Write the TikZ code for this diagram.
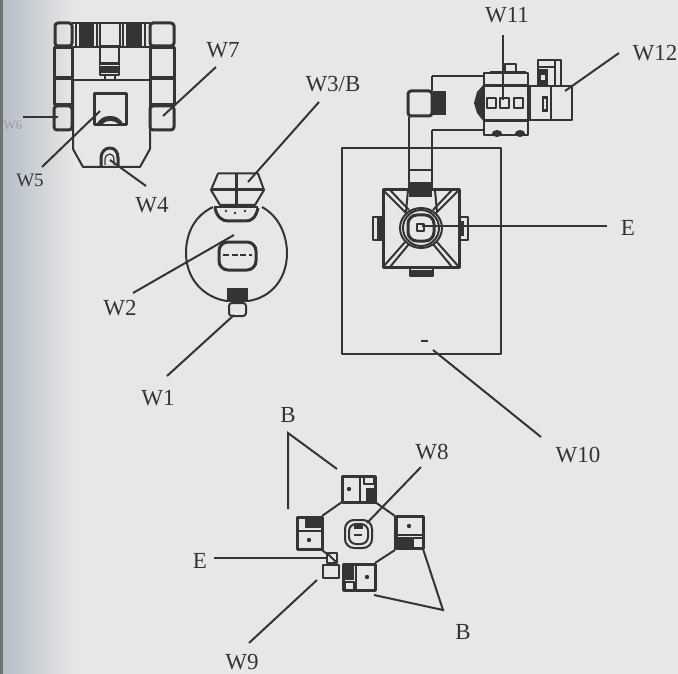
\documentclass[tikz,border=0pt]{standalone}
\usepackage{fontspec}
\setmainfont{Liberation Serif}
\definecolor{ink}{HTML}{343434}
\definecolor{paper}{HTML}{E7E7E6}
\definecolor{edge}{HTML}{B4BDC8}
\definecolor{faint}{HTML}{9A9DA3}
\tikzset{
  wall/.style={draw=ink,line width=2pt,line join=round},
  heavy/.style={draw=ink,line width=3pt,line join=round},
  thinwall/.style={draw=ink,line width=1.2pt},
  solid block/.style={fill=ink,draw=ink,line width=.6pt},
  leader/.style={draw=ink,line width=2pt},
  lab/.style={text=ink,inner sep=0pt,font=\fontsize{23}{26}\selectfont},
  smalllab/.style={text=faint,inner sep=0pt,font=\fontsize{13}{15}\selectfont},
  dotmark/.style={fill=ink,draw=none}
}
\begin{document}
\begin{tikzpicture}[x=1pt,y=-1pt]
\useasboundingbox (0,0) rectangle (678,674);
\fill[paper] (0,0) rectangle (678,674);
\shade[left color=edge,right color=paper,shading angle=90] (0,0) rectangle (75,674);
\fill[ink!70] (0,0) rectangle (2.5,674);

% ---------- tank (W4-W7)
\draw[heavy,rounded corners=3pt] (55,23) rectangle (72,46);
\draw[heavy] (54,48) rectangle (72,78);
\draw[heavy] (54,79) rectangle (72,105);
\draw[heavy,rounded corners=3pt] (54,106) rectangle (72,130);
\draw[heavy,rounded corners=3pt] (150,23) rectangle (174,46);
\draw[heavy] (150,48) rectangle (174,78);
\draw[heavy] (150,79) rectangle (174,105);
\draw[heavy,rounded corners=3pt] (150,106) rectangle (174,130);
\draw[wall] (72,23) -- (150,23);
\draw[wall] (72,47) -- (150,47);
\fill[ink] (79,23) rectangle (94,46);
\fill[ink] (126,23) rectangle (142,46);
\draw[thinwall] (76,23) -- (76,46) (97,23) -- (97,46) (123,23) -- (123,46) (145,23) -- (145,46);
\draw[wall] (100,23) rectangle (120,46);
\draw[wall] (100,47) rectangle (119,75);
\fill[ink] (100,62) rectangle (119,73);
\draw[draw=paper,line width=1pt] (100,66) -- (119,66);
\draw[wall] (105,75) rectangle (115,80);
\draw[wall] (73,80) -- (150,80);
\draw[wall] (73,80) -- (73,149) -- (83,167) -- (140,167) -- (150,149) -- (150,80);
\draw[heavy] (94,94) rectangle (126,125);
\fill[ink] (96,125) .. controls (100,118) and (104,116) .. (110,116)
  .. controls (116,116) and (120,118) .. (124,125) -- cycle;
\fill[paper] (103,124) .. controls (105,120) and (115,120) .. (118,124) -- cycle;
\draw[heavy] (101,167) -- (101,158) .. controls (101,152) and (105,148) .. (110,148)
  .. controls (115,148) and (118,152) .. (118,158) -- (118,167);
\draw[thinwall] (105,165) -- (105,160) .. controls (105,156) and (107,154) .. (110,154)
  .. controls (112,154) and (114,156) .. (114,160) -- (114,165);

% ---------- robot (W1-W3)
\draw[wall] (218,173.5) -- (258,173.5) -- (264,190) -- (255,205) -- (220,205) -- (211,190) -- cycle;
\draw[heavy] (211,190) -- (264,190);
\draw[heavy] (236,173.5) -- (236,205);
\draw[wall] (213,207) .. controls (190,218) and (186,240) .. (186,253)
  .. controls (186,280) and (205,298) .. (227,301);
\draw[wall] (262,207) .. controls (282,218) and (287,240) .. (287,253)
  .. controls (287,280) and (270,298) .. (248,301);
\draw[heavy] (215,208) .. controls (217,217) and (222,221) .. (228,221) -- (246,221)
  .. controls (252,221) and (256,217) .. (258,208);
\draw[wall] (214,207.5) -- (258,207.5);
\fill[dotmark] (226,211) circle (1.4) (235,213) circle (1.4) (245,211) circle (1.4);
\draw[heavy,rounded corners=9pt] (219,242) rectangle (256,270);
\draw[wall,dash pattern=on 6pt off 2.5pt] (223,255) -- (252,255);
\fill[ink] (227,288) rectangle (248,302);
\draw[wall,rounded corners=3pt] (229,303) rectangle (246,316);

% ---------- building (W10-W12, E)
\draw[wall] (342,148) rectangle (501,354);
\draw[wall] (409,117) -- (409,190) (432,130) -- (432,190);
\draw[heavy,rounded corners=3pt] (408,91) rectangle (432,116);
\fill[ink] (433,91) rectangle (446,115);
\draw[wall] (432,76) -- (432,91) (432,130) -- (484,130) (432,76) -- (484,76);
\draw[wall] (409,170) -- (432,170);
\fill[ink] (409,182) rectangle (432,197);
\draw[draw=paper,line width=.7pt] (409,188) -- (432,188);
% module W11
\draw[wall] (484,73) rectangle (528,135);
\draw[heavy] (484,86) -- (528,86);
\draw[heavy] (484,121) -- (528,121);
\draw[heavy] (490,72.5) -- (526,72.5);
\draw[wall] (505,64) rectangle (516,72);
\fill[ink] (484,84) -- (477,92) -- (474,103) -- (477,113) -- (484,122) -- cycle;
\draw[wall] (487,98) rectangle (496,108);
\draw[wall] (500,98) rectangle (509,108);
\draw[wall] (514,98) rectangle (523,108);
\fill[ink] (497,133.5) ellipse (5 and 3.5);
\fill[ink] (520,133.5) ellipse (5 and 3.5);
\draw[wall] (528,86) rectangle (572,120);
\draw[heavy] (529,86) -- (529,120);
\draw[wall] (551,86) -- (551,120);
\draw[wall] (538,60) rectangle (561,86);
\draw[wall] (538,67) -- (555,67);
\draw[wall] (555,61) -- (555,86);
\fill[ink] (539,69) rectangle (548,85);
\fill[paper] (541,75) rectangle (545,80);
\fill[ink] (542,96) rectangle (548,112);
\fill[paper] (544,99) rectangle (546,109);
% turret
\draw[heavy] (383,190) rectangle (459,267);
\draw[wall] (383,190) -- (406,213) (459,190) -- (436,213) (383,267) -- (406,241) (459,267) -- (436,241);
\draw[wall] (390,190) -- (409,210) (452,190) -- (433,210) (390,267) -- (409,244) (452,267) -- (433,244);
\draw[wall] (408,190) -- (406,212) (435,190) -- (437,212);
\draw[wall] (421,228) ellipse (21 and 20);
\draw[wall] (421,228) ellipse (18 and 18);
\draw[heavy,rounded corners=9pt] (408,215) rectangle (434,241);
\draw[wall] (417,224) rectangle (424,231);
\draw[wall] (373,217) rectangle (383,240);
\fill[ink] (377,218) rectangle (383,239);
\draw[wall] (459,217) rectangle (468,240);
\fill[ink] (459,221) rectangle (464,236);
\draw[wall] (410,267) -- (410,276) -- (433,276) -- (433,267);
\fill[ink] (411,270) rectangle (432,276);
\fill[ink] (421,339.5) rectangle (428,342);

% ---------- turret group (W8, W9, E, B)
\draw[wall] (342,502) -- (322,516) (322,550) -- (327,554) (375,502) -- (395,516) (395,550) -- (375,563);
\draw[wall] (322,516) -- (322,550);
\draw[wall] (395,516) -- (395,550);
% top module
\draw[heavy] (342,476) rectangle (375,502);
\draw[wall] (360,476) -- (360,502);
\draw[wall] (364,477) rectangle (374,484);
\fill[ink] (366,488) rectangle (375,503);
\fill[dotmark] (349,489) circle (2.2);
% right module
\draw[heavy] (396,516) rectangle (423,548);
\draw[wall] (396,535) -- (423,535);
\fill[ink] (395,537) rectangle (412,549);
\draw[wall] (413,538) rectangle (423,548);
\fill[dotmark] (409,526) circle (2.2);
% bottom module
\draw[heavy] (343,564) rectangle (375,590);
\draw[wall] (356,564) -- (356,590);
\fill[ink] (344,564) rectangle (354,580);
\draw[wall] (345,582) rectangle (354,590);
\fill[dotmark] (367,577) circle (2.2);
% left module
\draw[heavy] (297,517) rectangle (322,549);
\draw[wall] (297,531) -- (322,531);
\fill[ink] (305,517) rectangle (322,528);
\fill[paper] (299,520) rectangle (303,527);
\fill[dotmark] (309,540) circle (2.2);
% centre
\draw[wall,rounded corners=9pt] (345,520) rectangle (372,548);
\draw[wall,rounded corners=7pt] (349,524) rectangle (368,544);
\fill[ink] (354,524) rectangle (363,529);
\fill[ink] (354,534) rectangle (362,535.5);
% small parts
\draw[wall] (327,553) rectangle (337,563);
\draw[wall] (327,553) -- (337,563);
\draw[wall] (323,565) rectangle (339,578);

% ---------- labels
\node[lab] (lw7) at (223,50) {W7};
\node[smalllab] (lw6) at (13,125) {W6};
\node[lab,font=\fontsize{19}{22}\selectfont] (lw5) at (30,180) {W5};
\node[lab] (lw4) at (152,205) {W4};
\node[lab] (lw3) at (333,84) {W3/B};
\node[lab] (lw2) at (120,308) {W2};
\node[lab] (lw1) at (158,398) {W1};
\node[lab] (lw11) at (507,15) {W11};
\node[lab] (lw12) at (655,53) {W12};
\node[lab] (le) at (628,228) {E};
\node[lab] (lw10) at (578,455) {W10};
\node[lab] (lw8) at (432,452) {W8};
\node[lab] (lw9) at (242,662) {W9};
\node[lab] (lb1) at (288,415) {B};
\node[lab] (lb2) at (463,632) {B};
\node[lab] (le2) at (200,561) {E};

% ---------- leader anchors
\coordinate (a7a) at (216,67);   \coordinate (a7b) at (163,116);
\coordinate (a6a) at (23,117);   \coordinate (a6b) at (58,117);
\coordinate (a5a) at (42,167);   \coordinate (a5b) at (100,111);
\coordinate (a4a) at (146,186);  \coordinate (a4b) at (110,160);
\coordinate (a3a) at (319,102);  \coordinate (a3b) at (248,182);
\coordinate (a2a) at (133,293);  \coordinate (a2b) at (234,235);
\coordinate (a1a) at (167,376);  \coordinate (a1b) at (234,315);
\coordinate (a11a) at (503,35);  \coordinate (a11b) at (503,100);
\coordinate (a12a) at (619,53);  \coordinate (a12b) at (565,91);
\coordinate (aEa) at (607,226);  \coordinate (aEb) at (422,226);
\coordinate (a10a) at (541,437); \coordinate (a10b) at (433,350);
\coordinate (a8a) at (421,467);  \coordinate (a8b) at (367,523);
\coordinate (a9a) at (249,643);  \coordinate (a9b) at (317,580);
\coordinate (aE2a) at (214,558); \coordinate (aE2b) at (327,558);
\coordinate (b1) at (288,433);   \coordinate (b1a) at (288,509); \coordinate (b1b) at (337,469);
\coordinate (b2) at (443,610);   \coordinate (b2a) at (423,549); \coordinate (b2b) at (374,595);

\draw[leader] (a7a) -- (a7b);
\draw[leader] (a6a) -- (a6b);
\draw[leader] (a5a) -- (a5b);
\draw[leader] (a4a) -- (a4b);
\draw[leader] (a3a) -- (a3b);
\draw[leader] (a2a) -- (a2b);
\draw[leader] (a1a) -- (a1b);
\draw[leader] (a11a) -- (a11b);
\draw[leader] (a12a) -- (a12b);
\draw[leader] (aEa) -- (aEb);
\draw[leader] (a10a) -- (a10b);
\draw[leader] (a8a) -- (a8b);
\draw[leader] (a9a) -- (a9b);
\draw[leader] (aE2a) -- (aE2b);
\draw[leader] (b1a) -- (b1) -- (b1b);
\draw[leader] (b2a) -- (b2) -- (b2b);
\end{tikzpicture}
\end{document}
